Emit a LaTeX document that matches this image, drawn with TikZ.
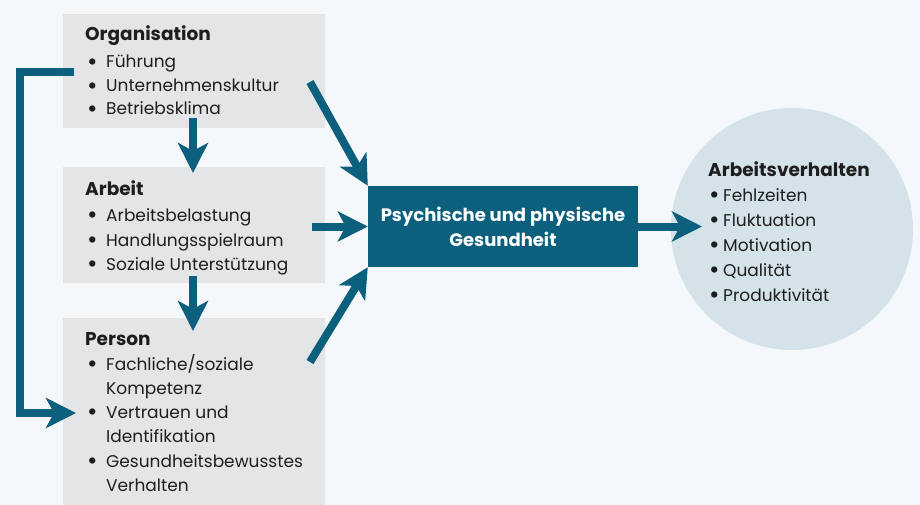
\documentclass[tikz,border=0pt]{standalone}
\usepackage{fontspec}
\setmainfont{Poppins}
\usetikzlibrary{arrows.meta}
\definecolor{bg}{HTML}{F5F8FA}
\definecolor{boxgray}{HTML}{E3E5E7}
\definecolor{darkteal}{HTML}{0D5F7E}
\definecolor{circfill}{HTML}{D4E2E9}
\definecolor{ink}{HTML}{1E1E1E}
\newcommand\bul{\raisebox{-0.12em}{\scalebox{1.5}{\textbullet}}}
\newcommand\bl{\makebox[19pt][l]{\bul}}
\newcommand\blc{\makebox[14pt][l]{\bul}}
\begin{document}
\begin{tikzpicture}[x=1pt,y=-1pt,
  font=\fontsize{17}{25}\selectfont,
  graybox/.style={fill=boxgray, draw=none, anchor=north west, inner sep=0, minimum width=262pt},
  ttl/.style={anchor=base west, inner sep=0, text=ink, font=\fontsize{18.5}{25}\selectfont\bfseries},
  itm/.style={anchor=base west, inner sep=0, text=ink},
  flow/.style={draw=darkteal, line width=8pt, -{Stealth[length=30pt,width=30pt,inset=8pt]}}]
\fill[bg] (0,0) rectangle (920,505);
\useasboundingbox (0,0) rectangle (920,505);

% boxes
\node[graybox, minimum height=114pt] (org) at (63,14) {};
\node[graybox, minimum height=116pt] (arb) at (63,167) {};
\node[graybox, minimum height=187pt] (per) at (63,318) {};
\node[fill=darkteal, minimum width=270pt, minimum height=81pt, inner sep=0,
      text=white, align=center, font=\fontsize{18}{25}\selectfont\bfseries] (psy) at (503,226.5)
      {Psychische und physische\\Gesundheit};
\node[circle, fill=circfill, minimum size=242pt, inner sep=0] (av) at (792,229) {};

% texts: Organisation
\node[ttl] (t1) at (85,41) {Organisation};
\node[itm] (t1a) at (87,68) {\bl Führung};
\node[itm] (t1b) at (87,92) {\bl Unternehmenskultur};
\node[itm] (t1c) at (87,115) {\bl Betriebsklima};
% Arbeit
\node[ttl] (t2) at (85,195) {Arbeit};
\node[itm] (t2a) at (87,221) {\bl Arbeitsbelastung};
\node[itm] (t2b) at (87,246) {\bl Handlungsspielraum};
\node[itm] (t2c) at (87,270) {\bl Soziale Unterstützung};
% Person
\node[ttl] (t3) at (85,345) {Person};
\node[itm] (t3a) at (87,370) {\bl Fachliche/soziale};
\node[itm] (t3b) at (106,394) {Kompetenz};
\node[itm] (t3c) at (87,418) {\bl Vertrauen und};
\node[itm] (t3d) at (106,442) {Identifikation};
\node[itm] (t3e) at (87,467) {\bl Gesundheitsbewusstes};
\node[itm] (t3f) at (106,491) {Verhalten};
% Arbeitsverhalten
\node[ttl] (t4) at (708,177) {Arbeitsverhalten};
\node[itm] (t4a) at (709,201) {\blc Fehlzeiten};
\node[itm] (t4b) at (709,226) {\blc Fluktuation};
\node[itm] (t4c) at (709,251) {\blc Motivation};
\node[itm] (t4d) at (709,276) {\blc Qualität};
\node[itm] (t4e) at (709,301) {\blc Produktivität};

% arrow anchors
\coordinate (s1) at (310,82);
\coordinate (s2) at (312,226.5);
\coordinate (s3) at (310,362);
\coordinate (e4) at (702,226.5);
\coordinate (d1s) at (193,118);
\coordinate (d1e) at (193,173);
\coordinate (d2s) at (193,276);
\coordinate (d2e) at (193,331);
\coordinate (fbs) at (74,72);
\coordinate (fbe) at (76,413);

\draw[flow] (s1) -- (psy.north west);
\draw[flow] (s2) -- (psy.west);
\draw[flow] (s3) -- (psy.south west);
\draw[flow] (psy.east) -- (e4);
\draw[flow] (d1s) -- (d1e);
\draw[flow] (d2s) -- (d2e);
\draw[flow] (fbs) -- (20,72) -- (20,413) -- (fbe);
\end{tikzpicture}
\end{document}
